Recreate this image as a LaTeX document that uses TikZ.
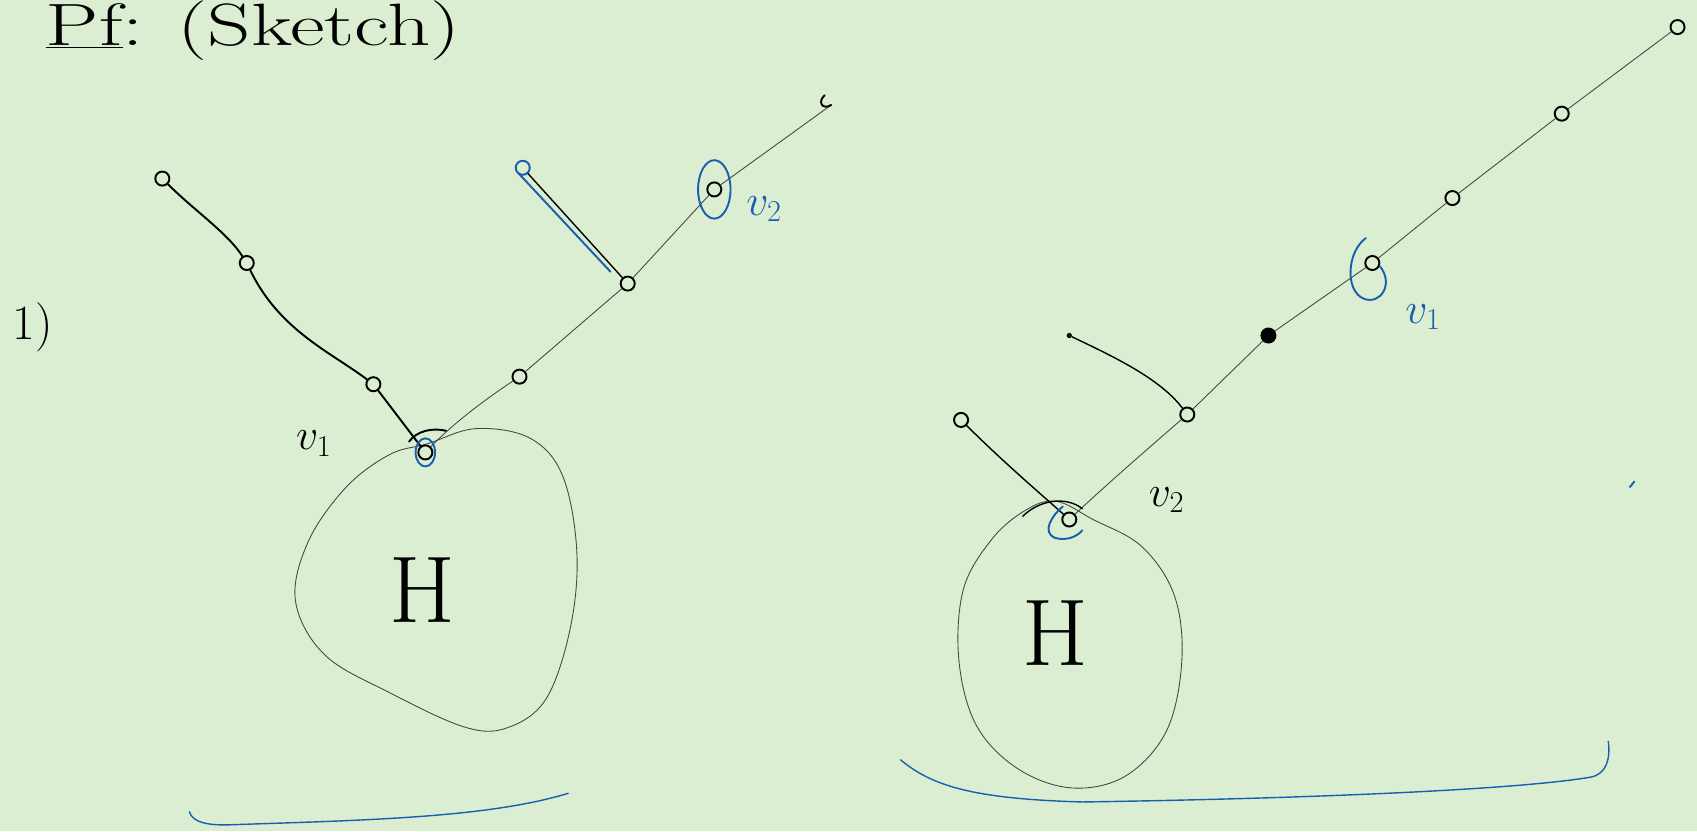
\documentclass[tikz,border=0pt]{standalone}
\usepackage{xcolor}
\definecolor{paper}{RGB}{220,238,210}
\definecolor{inkblue}{RGB}{25,95,175}
\definecolor{inkgrey}{RGB}{70,70,70}
\begin{document}
\begin{tikzpicture}[x=0.021646cm,y=-0.021646cm,
  vtx/.style={circle,draw=black,line width=1.1pt,minimum size=8pt,inner sep=0pt},
  tip/.style={circle,fill=black,minimum size=3pt,inner sep=0pt},
  ink/.style={black,line width=1.1pt,line cap=round},
  thinink/.style={inkgrey,line width=0.5pt,line cap=round},
  blueink/.style={inkblue,line width=1.1pt,line cap=round},
  lbl/.style={font=\fontsize{24}{24}\selectfont,inner sep=0pt},
  bigH/.style={font=\fontsize{54}{54}\selectfont,inner sep=0pt}]
\fill[paper] (0,0) rectangle (1568,768);
\useasboundingbox (0,0) rectangle (1568,768);

% title
\node[anchor=west,inner sep=0pt,xscale=1.42,font=\fontsize{34}{34}\selectfont] (title) at (42,28) {\underline{Pf}: (Sketch)};
\node[lbl,font=\fontsize{28}{28}\selectfont] (num) at (30,302) {1)};

% ---------- left picture ----------
\draw[thinink] plot[smooth cycle,tension=0.6] coordinates {(395,410) (440,396) (490,405) (520,440) (533,510) (527,580) (505,645) (470,672) (430,672) (360,640) (300,605) (273,555) (285,500) (320,450) (360,420)};
\node[bigH] (lH) at (390,545) {H};

\node[vtx] (la) at (150,165) {};
\node[vtx] (lb) at (228,243) {};
\node[vtx] (lc) at (345,355) {};
\node[vtx] (lv1) at (393,418) {};
\node[vtx] (ld) at (480,348) {};
\node[vtx] (le) at (580,262) {};
\node[vtx,draw=inkblue] (lp) at (483,155) {};
\node[vtx] (lv2) at (660,175) {};
\coordinate (lt) at (768,97);
\coordinate (lpb) at (479,160);
\coordinate (lpe) at (564,251);

\draw[ink] (la) .. controls (180,195) and (210,215) .. (lb);
\draw[ink] (lb) .. controls (258,305) and (305,325) .. (lc);
\draw[ink] (lc) -- (lv1);
\draw[thinink] (lv1) .. controls (420,390) and (450,368) .. (ld);
\draw[thinink] (ld) -- (le);
\draw[thinink] (le) -- (lv2);
\draw[thinink] (lv2) -- (lt);
\draw[ink] (762,88) .. controls (755,94) and (760,102) .. (lt);
\draw[ink,line width=0.8pt] (lp) -- (le);
\draw[blueink] (lpb) -- (lpe);
\draw[ink] (378,408) .. controls (385,398) and (400,395) .. (412,398);
\draw[blueink] (lv1) ellipse [x radius=9, y radius=13];
\draw[blueink] (lv2) ellipse [x radius=15, y radius=27];
\node[lbl] (lv1l) at (290,410) {$v_1$};
\node[lbl,text=inkblue] (lv2l) at (706,193) {$v_2$};

% ---------- right picture ----------
\draw[thinink] plot[smooth cycle,tension=0.6] coordinates {(975,463) (1010,480) (1055,505) (1085,550) (1092,610) (1078,675) (1040,717) (990,728) (940,710) (902,670) (886,610) (890,545) (915,500) (945,473)};
\node[bigH] (rH) at (975,585) {H};

\node[vtx] (rt) at (1550,25) {};
\node[vtx] (rn1) at (1443,105) {};
\node[vtx] (rn2) at (1342,183) {};
\node[vtx] (rv1) at (1268,243) {};
\node[vtx,fill=black] (rn3) at (1172,310) {};
\node[vtx] (rn4) at (1097,383) {};
\node[tip] (rp1) at (988,310) {};
\node[vtx] (rp2) at (888,388) {};
\node[vtx] (rv2) at (988,480) {};

\draw[thinink] (rv2) .. controls (1020,450) and (1060,415) .. (rn4);
\draw[thinink] (rn4) -- (rn3);
\draw[thinink] (rn3) -- (rv1);
\draw[thinink] (rv1) -- (rn2);
\draw[thinink] (rn2) -- (rn1);
\draw[thinink] (rn1) -- (rt);
\draw[ink,line width=0.8pt] (rp1) .. controls (1030,330) and (1072,350) .. (rn4);
\draw[ink,line width=0.8pt] (rp2) .. controls (925,425) and (960,455) .. (rv2);
\draw[ink,line width=0.8pt] (945,477) .. controls (960,462) and (985,458) .. (1000,470);
\draw[blueink] (1262,220) .. controls (1245,232) and (1242,268) .. (1260,276) .. controls (1276,282) and (1288,262) .. (1275,246);
\draw[blueink] (982,468) .. controls (972,476) and (962,492) .. (975,497) .. controls (985,500) and (995,496) .. (1000,490);
\draw[blueink] (1506,450) -- (1510,445);
\node[lbl,text=inkblue] (rv1l) at (1315,293) {$v_1$};
\node[lbl] (rv2l) at (1078,462) {$v_2$};

% bottom blue strokes
\draw[blueink,line width=0.8pt] (175,750) .. controls (178,760) and (192,763) .. (215,762) .. controls (330,758) and (450,756) .. (525,733);
\draw[blueink,line width=0.8pt] (832,702) .. controls (860,725) and (895,738) .. (1000,741) .. controls (1200,738) and (1400,730) .. (1470,718) .. controls (1485,715) and (1488,700) .. (1486,685);
\end{tikzpicture}
\end{document}
